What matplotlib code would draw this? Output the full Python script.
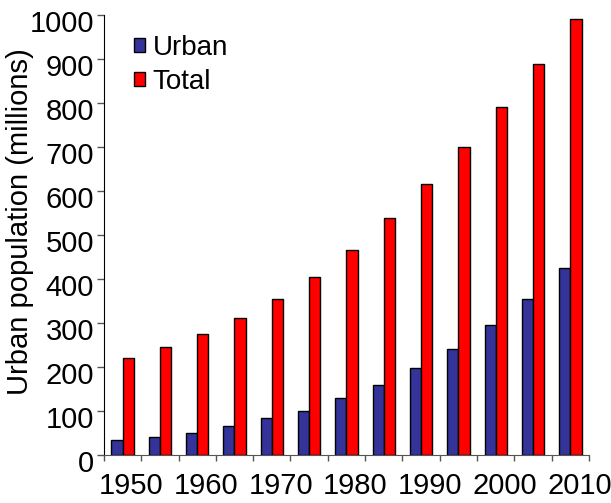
import numpy as np
import matplotlib
matplotlib.use("Agg")
import matplotlib.pyplot as plt
import matplotlib.transforms as mtransforms

plt.rcParams['font.family'] = ['Liberation Sans', 'DejaVu Sans']

years = [1950, 1955, 1960, 1965, 1970, 1975, 1980, 1985, 1990, 1995, 2000, 2005, 2010]
urban = [33, 41, 51, 65, 83, 101, 129, 158, 197, 242, 295, 355, 425]
total = [220, 245, 275, 311, 355, 404, 465, 538, 617, 701, 790, 888, 992]
tick_years = [1950, 1960, 1970, 1980, 1990, 2000, 2010]

fig = plt.figure(figsize=(6.11, 5.03), dpi=100)
ax = fig.add_axes([0.170, 0.0954, 0.794, 0.8748])

x = np.arange(len(years)) + 0.5
w = 0.3
ax.bar(x - w / 2, urban, w, color='#333399', edgecolor='black', linewidth=1, label='Urban')
ax.bar(x + w / 2, total, w, color='#ff0000', edgecolor='black', linewidth=1, label='Total')

ax.set_xlim(0, len(years))
ax.set_ylim(0, 1000)
ax.set_yticks(np.arange(0, 1001, 100))

# category labels every other group, small ticks at group boundaries
ax.set_xticks([x[years.index(y)] for y in tick_years])
ax.set_xticklabels([str(y) for y in tick_years])
ax.set_xticks(np.arange(0, len(years) + 1), minor=True)
ax.tick_params(axis='x', which='major', length=0, pad=12, labelsize=21)
ax.tick_params(axis='x', which='minor', length=4, width=1, direction='out', color='#555555')
ax.tick_params(axis='y', length=5, width=1, direction='out', pad=2, labelsize=21, color='#555555')
xshift = mtransforms.ScaledTranslation(9 / 100, 0, fig.dpi_scale_trans)
for lab in ax.get_xticklabels():
    lab.set_transform(lab.get_transform() + xshift)
yshift = mtransforms.ScaledTranslation(0, -6 / 100, fig.dpi_scale_trans)
for lab in ax.get_yticklabels():
    lab.set_transform(lab.get_transform() + yshift)

for s in ['top', 'right']:
    ax.spines[s].set_visible(False)
ax.spines['left'].set_color('black')
ax.spines['bottom'].set_color('#555555')

ax.set_ylabel('Urban population (millions)', fontsize=21)
ax.yaxis.set_label_coords(-0.145, 0.53)

ax.legend(loc='upper left', bbox_to_anchor=(0.04, 0.98), frameon=False, fontsize=20,
          handlelength=0.4, handleheight=0.4, handletextpad=0.25, labelspacing=0.3,
          borderaxespad=0)

fig.savefig('out.png', dpi=100)
